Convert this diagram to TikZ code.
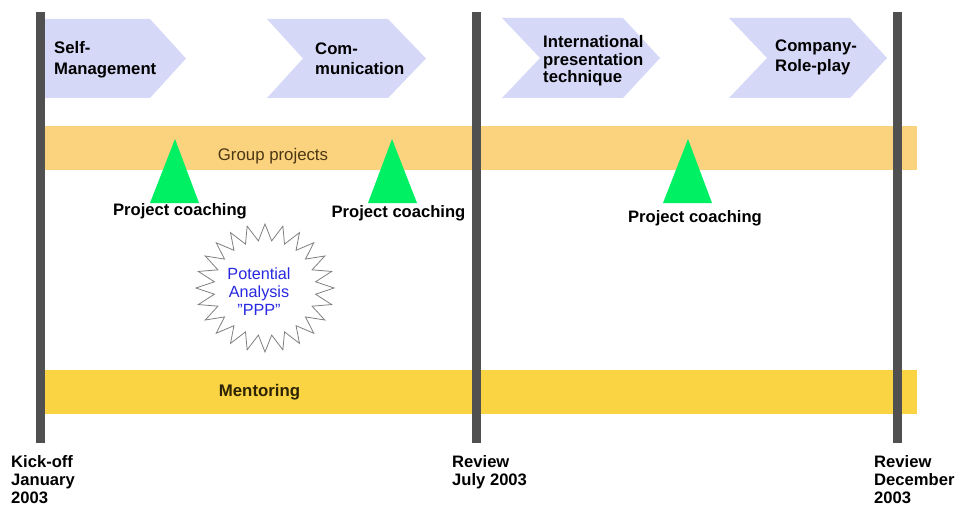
\documentclass[tikz,border=0pt]{standalone}
\usepackage{fontspec}
\setmainfont{Liberation Sans}
\definecolor{barGray}{RGB}{80,80,80}
\definecolor{chevFill}{RGB}{214,216,247}
\definecolor{groupBand}{RGB}{251,210,125}
\definecolor{groupText}{RGB}{75,55,20}
\definecolor{mentorBand}{RGB}{250,212,66}
\definecolor{mentorText}{RGB}{45,35,5}
\definecolor{coachGreen}{RGB}{0,240,100}
\definecolor{starLine}{RGB}{128,128,128}
\definecolor{starText}{RGB}{40,40,225}
\begin{document}
\begin{tikzpicture}[x=1pt,y=-1pt,
  milestone/.style={fill=barGray},
  chevron/.style={fill=chevFill},
  coach/.style={fill=coachGreen},
  lbl/.style={inner sep=0,align=left,anchor=north west,
    font={\fontsize{16.7}{20.5}\selectfont\bfseries}},
  coachlbl/.style={inner sep=0,font={\fontsize{16.6}{18}\selectfont\bfseries}},
  datelbl/.style={inner sep=0,align=left,anchor=north west,
    font={\fontsize{16.6}{18.3}\selectfont\bfseries}}]
\useasboundingbox (0,0) rectangle (957,508);

% module chevrons
\fill[chevron] (36,19) -- (150,19) -- (186,58.5) -- (150,98) -- (36,98) -- cycle;
\fill[chevron] (267,19) -- (388,19) -- (426,58.5) -- (388,98) -- (267,98) -- (303,58.5) -- cycle;
\fill[chevron] (502,18) -- (623,18) -- (660,58) -- (623,98) -- (502,98) -- (540,58) -- cycle;
\fill[chevron] (729,18) -- (850,18) -- (887,58) -- (850,98) -- (729,98) -- (767,58) -- cycle;

\node[lbl] (self) at (54,41.5) {Self-\\Management};
\node[lbl] (comm) at (315,42.5) {Com-\\munication};
\node[lbl,font={\fontsize{16.7}{17.8}\selectfont\bfseries}] (intl) at (543,35) {International\\presentation\\technique};
\node[lbl] (comp) at (775,39.5) {Company-\\Role-play};

% group projects band
\fill[groupBand] (44,126) rectangle (917,170);
\node[inner sep=0,text=groupText,font={\fontsize{16.8}{18}\selectfont}] (group) at (273,156) {Group projects};

% mentoring band
\fill[mentorBand] (44,370) rectangle (917,414);
\node[inner sep=0,text=mentorText,font={\fontsize{16.8}{18}\selectfont\bfseries}] (mentor) at (259.5,392) {Mentoring};

% coaching markers
\fill[coach] (175,139) -- (199,203) -- (150,203) -- cycle;
\fill[coach] (392,139) -- (417,203) -- (368,203) -- cycle;
\fill[coach] (688,139) -- (712,203) -- (663,203) -- cycle;
\node[coachlbl] (c1) at (180,211) {Project coaching};
\node[coachlbl] (c2) at (398.5,213) {Project coaching};
\node[coachlbl] (c3) at (695,218) {Project coaching};

% potential analysis burst
\begin{scope}[shift={(265,288)}]
\draw[starLine,fill=white,line width=0.8pt,line join=miter]
  (90:69 and 64)
  \foreach \k in {0,...,23}{ -- ({90+\k*15+7.5}:51 and 47.5) -- ({90+\k*15+15}:69 and 64)} -- cycle;
\end{scope}
\node[inner sep=0,align=center,anchor=north,text=starText,font={\fontsize{16.2}{18.2}\selectfont}] (ppp) at (259,267.5) {Potential\\Analysis\\"PPP"};

% milestones
\fill[milestone] (35.5,12) rectangle (44.5,443);
\fill[milestone] (471.5,12) rectangle (480.5,443);
\fill[milestone] (892.5,12) rectangle (901.5,443);

\node[datelbl] (kick) at (11,455) {Kick-off\\January\\2003};
\node[datelbl] (rev1) at (452,455) {Review\\July 2003};
\node[datelbl] (rev2) at (874,455) {Review\\December\\2003};
\end{tikzpicture}
\end{document}
